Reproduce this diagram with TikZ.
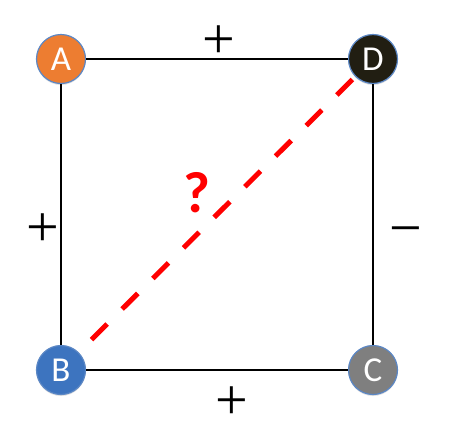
\documentclass[tikz,border=0pt]{standalone}
\usepackage{fontspec}
\setmainfont{Carlito}
\newfontfamily\signfont{Liberation Serif}
\usepackage{xcolor}
\usetikzlibrary{positioning, shadows}
\definecolor{orangeA}{HTML}{ED7D31}
\definecolor{blueB}{HTML}{3D74BF}
\definecolor{grayC}{HTML}{7F7F7F}
\definecolor{darkD}{HTML}{211E12}
\definecolor{rimblue}{HTML}{5B87C5}
\tikzstyle{vert}=[circle, draw=rimblue, line width=1.2pt, minimum size=49pt, inner sep=0pt, text=white, font=\fontsize{35}{35}\selectfont, drop shadow={opacity=0.25, shadow xshift=0pt, shadow yshift=-1.5pt}]
\tikzstyle{sign}=[inner sep=0pt, font=\signfont\fontsize{58}{58}\selectfont]
\tikzstyle{edge}=[black, line width=2pt]

\begin{document}
\begin{tikzpicture}[x=1pt, y=-1pt]
\useasboundingbox (0,0) rectangle (449,445);

% Diagonal
\draw[red, line width=5pt, dash pattern=on 22pt off 21.3pt, dash phase=14.3pt] (373,59) -- (61,370);

% Corners
\node[vert, fill=orangeA] (a) at (61,59) {A};
\node[vert, fill=darkD] (d) at (373,59) {D};
\node[vert, fill=blueB] (b) at (61,370) {B};
\node[vert, fill=grayC] (c) at (373,370) {C};

% Sides
\draw[edge] (a) -- (d);
\draw[edge] (a) -- (b);
\draw[edge] (b) -- (c);
\draw[edge] (d) -- (c);

% Signs
\node[sign] (ad) at (219,42) {+};
\node[sign] (ab) at (43,230) {+};
\node[sign] (dc) at (406,237) {−};
\node[sign] (bc) at (232,403) {+};
\node[text=red, font=\bfseries\fontsize{58}{58}\selectfont] (q) at (197,193) {?};

\end{tikzpicture}
\end{document}
